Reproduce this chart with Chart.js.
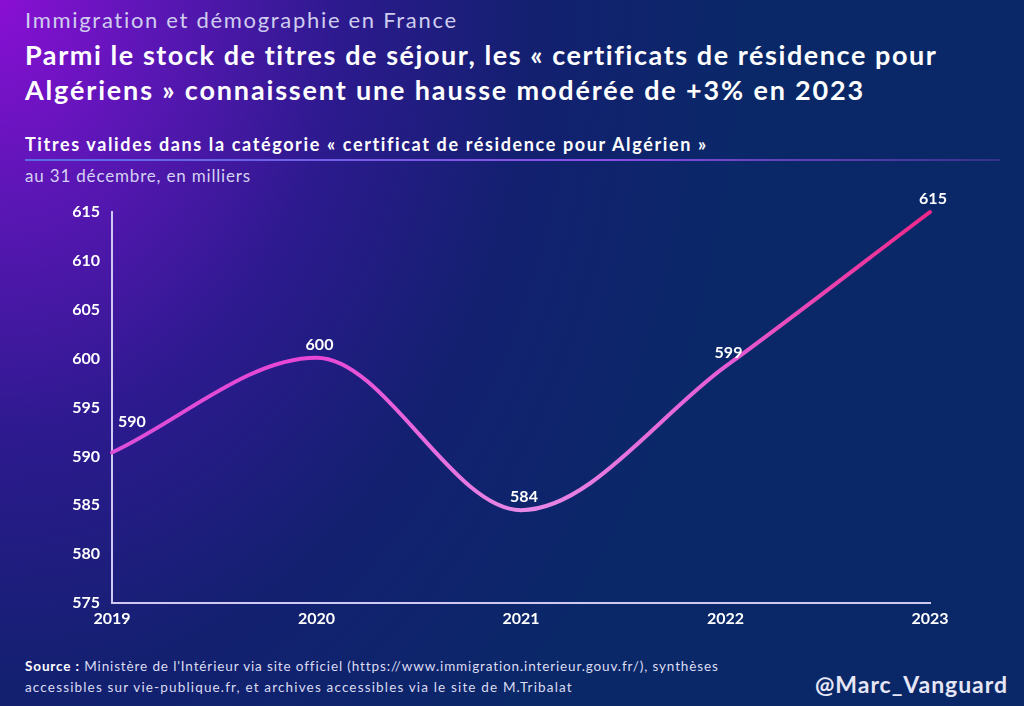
<!DOCTYPE html>
<html lang="fr">
<head>
<meta charset="utf-8">
<script src="https://cdn.jsdelivr.net/npm/chart.js@4.4.1/dist/chart.umd.min.js"></script>
<style>
  html, body { margin: 0; padding: 0; }
  body {
    width: 1024px; height: 706px; overflow: hidden; position: relative;
    font-family: Lato, 'Open Sans', sans-serif; color: #fff;
    background-color: #0a2868;
    background-image: radial-gradient(ellipse 760px 980px at 0 0, #8a0fd4 0%, #5c16b6 20%, #2c1a8e 45%, #132070 70%, #0a2868 100%);
  }
  .txt { position: absolute; white-space: nowrap; }
  .kicker { left: 25px; top: 6px; font-size: 22px; color: #cfcdef; }
  .title { left: 25px; font-size: 27px; font-weight: 700; }
  .subtitle { left: 25px; top: 133px; font-size: 18px; font-weight: 700; }
  .rule { position: absolute; left: 25px; top: 159px; width: 975px; height: 2px;
    background: linear-gradient(to right, #5a6ee8, #8b4fe6 60%, rgba(150,70,220,0.3)); }
  .unit { left: 25px; top: 165px; font-size: 17px; color: #d4d2f2; }
  .source { left: 25px; font-size: 13.5px; color: #dcdcf2; }
  .source b { color: #fff; }
  .handle { left: 815px; top: 670px; font-size: 23px; font-weight: 700; color: #e6e6f6; }
  #wrap { position: absolute; left: 40px; top: 180px; width: 930px; height: 455px; }
</style>
</head>
<body>
<div class="txt kicker" data-w="433">Immigration et démographie en France</div>
<div class="txt title" style="top:38px" data-w="913">Parmi le stock de titres de séjour, les « certificats de résidence pour</div>
<div class="txt title" style="top:73px" data-w="840">Algériens » connaissent une hausse modérée de +3% en 2023</div>
<div class="txt subtitle" data-w="683">Titres valides dans la catégorie « certificat de résidence pour Algérien »</div>
<div class="rule"></div>
<div class="txt unit" data-w="226">au 31 décembre, en milliers</div>
<div id="wrap"><canvas id="chart"></canvas></div>
<div class="txt source" style="top:658px" data-w="693"><b>Source :</b> Ministère de l'Intérieur via site officiel (https://www.immigration.interieur.gouv.fr/), synthèses</div>
<div class="txt source" style="top:679px" data-w="548">accessibles sur vie-publique.fr, et archives accessibles via le site de M.Tribalat</div>
<div class="txt handle" data-w="193">@Marc_Vanguard</div>

<script>
const years = ['2019', '2020', '2021', '2022', '2023'];
const stock = [590.4, 600.1, 584.5, 599.2, 615];
const stockLabels = ['590', '600', '584', '599', '615'];
const yMin = 575;
const yMax = 615;
const yStep = 5;

// stretch the texts to the widths of the original (its font is wider than Lato)
document.querySelectorAll('[data-w]').forEach(node => {
  const target = +node.dataset.w;
  const w = node.getBoundingClientRect().width;
  const n = node.textContent.length;
  node.style.letterSpacing = ((target - w) / n).toFixed(2) + 'px';
});

const tickFont = { family: 'Lato', size: 16, weight: '700' };

// value labels above each point
const valueLabels = {
  id: 'valueLabels',
  afterDatasetsDraw(chart) {
    const ctx = chart.ctx;
    const pts = chart.getDatasetMeta(0).data;
    ctx.save();
    ctx.font = '700 16px Lato';
    ctx.fillStyle = '#ffffff';
    ctx.textBaseline = 'alphabetic';
    pts.forEach((p, i) => {
      if (i === 0) {
        ctx.textAlign = 'left';
        ctx.fillText(stockLabels[i], p.x + 6, p.y - 25);
      } else {
        ctx.textAlign = 'center';
        ctx.fillText(stockLabels[i], p.x + 3, p.y - 8);
      }
    });
    ctx.restore();
  }
};

function lineGradient(context) {
  const area = context.chart.chartArea;
  if (!area) return '#e050d8';
  const g = context.chart.ctx.createLinearGradient(area.left, 0, area.right, 0);
  g.addColorStop(0, '#dc4fd8');
  g.addColorStop(0.25, '#e846d4');
  g.addColorStop(0.5, '#e68ae6');
  g.addColorStop(0.75, '#e45cd4');
  g.addColorStop(1, '#f0288a');
  return g;
}

new Chart(document.getElementById('chart'), {
  type: 'line',
  data: {
    labels: years,
    datasets: [{
      data: stock,
      borderColor: lineGradient,
      borderWidth: 4,
      borderCapStyle: 'round',
      cubicInterpolationMode: 'monotone',
      pointRadius: 0,
      fill: false,
      clip: false
    }]
  },
  options: {
    responsive: true,
    maintainAspectRatio: false,
    animation: false,
    layout: { padding: { top: 32, right: 40, bottom: 0, left: 0 } },
    plugins: { legend: { display: false }, tooltip: { enabled: false } },
    scales: {
      x: {
        offset: false,
        grid: { display: false, drawTicks: false },
        border: { display: true, color: '#cfc8f2', width: 2 },
        ticks: { color: '#ffffff', font: tickFont, padding: 6, maxRotation: 0 },
        afterFit: s => { s.height = 32; }
      },
      y: {
        min: yMin,
        max: yMax,
        grid: { display: false, drawTicks: false },
        border: { display: true, color: '#cfc8f2', width: 2 },
        ticks: { stepSize: yStep, color: '#ffffff', font: tickFont, padding: 12 },
        afterFit: s => { s.width = 72; }
      }
    }
  },
  plugins: [valueLabels]
});
</script>
</body>
</html>
